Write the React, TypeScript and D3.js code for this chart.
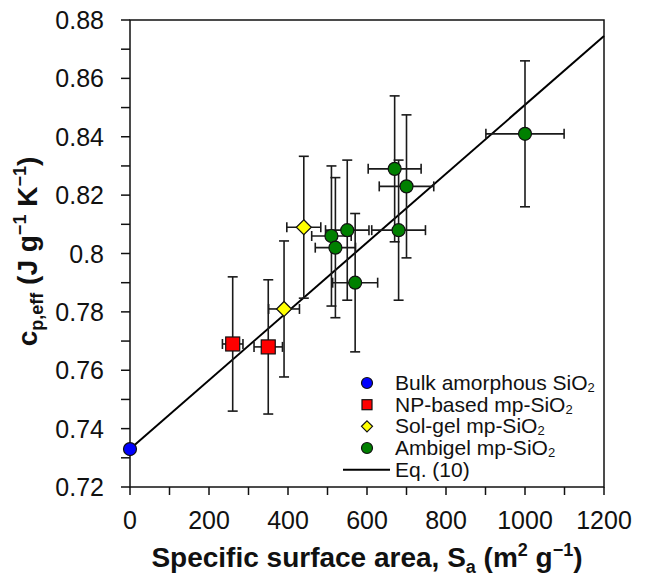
import React from "react";
import * as d3 from "d3";

const bulkX = [0];
const bulkY = [0.733];
const npX = [260, 350];
const npY = [0.769, 0.768];
const npXErr = [26, 36];
const npYErr = [0.023, 0.023];
const solX = [390, 440];
const solY = [0.781, 0.809];
const solXErr = [39, 43];
const solYErr = [0.0233, 0.0243];
const ambX = [510, 520, 550, 570, 670, 700, 680, 1000];
const ambY = [0.806, 0.802, 0.808, 0.79, 0.829, 0.823, 0.808, 0.841];
const ambXErr = [50, 51, 55, 57, 67, 69, 68, 99];
const ambYErr = [0.024, 0.024, 0.024, 0.0237, 0.025, 0.0245, 0.024, 0.025];
const fitX = [0, 1200];
const fitY = [0.733, 0.8745];
const xTicks = [0, 200, 400, 600, 800, 1000, 1200];
const yTicks = [0.72, 0.74, 0.76, 0.78, 0.8, 0.82, 0.84, 0.86, 0.88];
const legendLabels = ["Bulk amorphous SiO", "NP-based mp-SiO", "Sol-gel mp-SiO", "Ambigel mp-SiO", "Eq. (10)"];

const FONT = "'Liberation Sans', Arial, sans-serif";
const L = 130, R = 604, T = 20, B = 487;

export default function App() {
  const x = d3.scaleLinear().domain([0, 1200]).range([L, R]);
  const y = d3.scaleLinear().domain([0.72, 0.88]).range([B, T]);
  const minorX = d3.range(0, 1201, 100);
  const minorY = d3.range(0, 17).map((i) => 0.72 + i * 0.01);
  const line = d3.line<number>().x((d, i) => x(fitX[i])).y((d, i) => y(fitY[i]));

  const errBars = (xs: number[], ys: number[], xe: number[], ye: number[], key: string) =>
    xs.map((xv, i) => {
      const cx = x(xv), cy = y(ys[i]);
      const x1 = x(xv - xe[i]), x2 = x(xv + xe[i]);
      const y1 = y(ys[i] + ye[i]), y2 = y(ys[i] - ye[i]);
      const c = 5;
      return (
        <g key={key + i} stroke="#1a1a1a" strokeWidth={1.6} fill="none">
          <line x1={x1} x2={x2} y1={cy} y2={cy} />
          <line x1={x1} x2={x1} y1={cy - c} y2={cy + c} />
          <line x1={x2} x2={x2} y1={cy - c} y2={cy + c} />
          <line x1={cx} x2={cx} y1={y1} y2={y2} />
          <line x1={cx - c} x2={cx + c} y1={y1} y2={y1} />
          <line x1={cx - c} x2={cx + c} y1={y2} y2={y2} />
        </g>
      );
    });

  const circle = (cx: number, cy: number, r: number, fill: string, k: string) => (
    <circle key={k} cx={cx} cy={cy} r={r} fill={fill} stroke="#111" strokeWidth={1.2} />
  );
  const square = (cx: number, cy: number, s: number, fill: string, k: string) => (
    <rect key={k} x={cx - s / 2} y={cy - s / 2} width={s} height={s} fill={fill} stroke="#111" strokeWidth={1.2} />
  );
  const diamond = (cx: number, cy: number, s: number, fill: string, k: string) => (
    <path key={k} d={`M${cx},${cy - s}L${cx + s},${cy}L${cx},${cy + s}L${cx - s},${cy}Z`} fill={fill} stroke="#111" strokeWidth={1.2} />
  );

  const legY = [390, 411.7, 433.3, 455, 476.7];
  const legMX = 367, legTX = 395;

  return (
    <svg width={650} height={580} style={{ position: "absolute", left: 0, top: 0, background: "#fff" }} fontFamily={FONT}>
      <rect x={L} y={T} width={R - L} height={B - T} fill="none" stroke="#111" strokeWidth={1.5} />
      {minorX.map((v) => (
        <line key={"xt" + v} x1={x(v)} x2={x(v)} y1={B} y2={B + 8} stroke="#111" strokeWidth={1.5} />
      ))}
      {minorY.map((v, i) => (
        <line key={"yt" + i} x1={L - 9} x2={L} y1={y(v)} y2={y(v)} stroke="#111" strokeWidth={1.5} />
      ))}
      {xTicks.map((v) => (
        <text key={"xl" + v} x={x(v)} y={529} fontSize={25} textAnchor="middle" fill="#111">{v}</text>
      ))}
      {yTicks.map((v) => (
        <text key={"yl" + v} x={104} y={y(v) + 9} fontSize={25} textAnchor="end" fill="#111">{d3.format("~g")(v)}</text>
      ))}
      <path d={line(fitX) || ""} fill="none" stroke="#000" strokeWidth={2} />
      {errBars(npX, npY, npXErr, npYErr, "np")}
      {errBars(solX, solY, solXErr, solYErr, "sol")}
      {errBars(ambX, ambY, ambXErr, ambYErr, "amb")}
      {bulkX.map((v, i) => circle(x(v), y(bulkY[i]), 6.5, "#0000ff", "b" + i))}
      {npX.map((v, i) => square(x(v), y(npY[i]), 14, "#ff0000", "n" + i))}
      {solX.map((v, i) => diamond(x(v), y(solY[i]), 7.5, "#ffff00", "s" + i))}
      {ambX.map((v, i) => circle(x(v), y(ambY[i]), 6.5, "#008000", "a" + i))}

      {circle(legMX, legY[0] - 7, 5.5, "#0000ff", "lg0")}
      {square(legMX, legY[1] - 7, 10, "#ff0000", "lg1")}
      {diamond(legMX, legY[2] - 7, 5.5, "#ffff00", "lg2")}
      {circle(legMX, legY[3] - 7, 5.5, "#008000", "lg3")}
      <line x1={343} x2={390} y1={legY[4] - 7} y2={legY[4] - 7} stroke="#000" strokeWidth={2} />
      {legendLabels.map((t, i) => (
        <text key={"lt" + i} x={legTX} y={legY[i]} fontSize={21} fill="#111">
          {t}
          {i < 4 ? <tspan fontSize={13} dy={2}>2</tspan> : null}
        </text>
      ))}

      <text x={(L + R) / 2} y={567} fontSize={28} fontWeight="bold" textAnchor="middle" fill="#111">
        Specific surface area, S<tspan fontSize={18} dy={6}>a</tspan>
        <tspan dy={-6}> (m</tspan><tspan fontSize={18} dy={-11}>2</tspan>
        <tspan dy={11}> g</tspan><tspan fontSize={18} dy={-11}>−1</tspan>
        <tspan dy={11}>)</tspan>
      </text>
      <text transform={`translate(37,${(T + B) / 2 - 2}) rotate(-90)`} fontSize={28} fontWeight="bold" textAnchor="middle" fill="#111">
        c<tspan fontSize={18} dy={6}>p,eff</tspan>
        <tspan dy={-6}> (J g</tspan><tspan fontSize={18} dy={-11}>−1</tspan>
        <tspan dy={11}> K</tspan><tspan fontSize={18} dy={-11}>−1</tspan>
        <tspan dy={11}>)</tspan>
      </text>
    </svg>
  );
}
